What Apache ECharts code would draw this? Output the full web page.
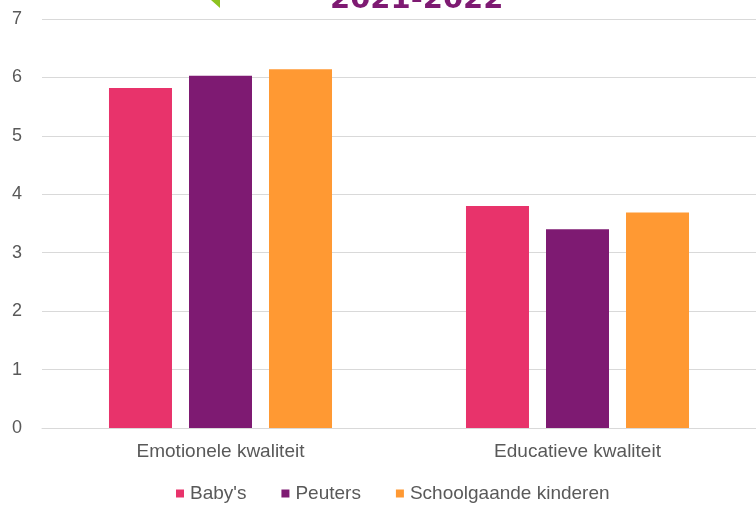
<!DOCTYPE html>
<html><head><meta charset="utf-8">
<script src="https://cdn.jsdelivr.net/npm/echarts@6/dist/echarts.min.js"></script>
<style>html,body{margin:0;padding:0;background:#fff}#c{width:756px;height:505px}</style>
</head><body><div id="c"></div>
<script>
const categories = ['Emotionele kwaliteit', 'Educatieve kwaliteit'];
const seriesNames = ["Baby's", 'Peuters', 'Schoolgaande kinderen'];
const babys = [5.82, 3.80];
const peuters = [6.03, 3.40];
const schoolgaande = [6.14, 3.69];
const colors = ['#E8336B', '#7E1A72', '#FF9933'];
const titleText = '2021-2022';

const chart = echarts.init(document.getElementById('c'));
const mk = (name, data, i) => ({
  name, type: 'bar', data, barWidth: 63, barGap: '27%',
  itemStyle: { color: colors[i] }
});
chart.setOption({
  animation: false,
  grid: { left: 42, right: 0, top: 19, bottom: 77 },
  legend: {
    bottom: 2, left: 176, padding: 0, itemWidth: 8, itemHeight: 8, itemGap: 35,
    icon: 'rect',
    textStyle: { color: '#595959', fontSize: 19, padding: [0, 0, 0, 1], fontFamily: 'Liberation Sans' },
    data: seriesNames
  },
  xAxis: {
    type: 'category', data: categories,
    axisLine: { lineStyle: { color: '#D9D9D9' } },
    axisTick: { show: false },
    axisLabel: { color: '#595959', fontSize: 19, margin: 14, fontFamily: 'Liberation Sans' }
  },
  yAxis: {
    type: 'value', min: 0, max: 7, interval: 1,
    axisLine: { show: false }, axisTick: { show: false },
    axisLabel: { color: '#595959', fontSize: 18, margin: 20, fontFamily: 'Liberation Sans' },
    splitLine: { lineStyle: { color: '#D9D9D9', width: 1 } }
  },
  series: [mk(seriesNames[0], babys, 0), mk(seriesNames[1], peuters, 1), mk(seriesNames[2], schoolgaande, 2)],
  graphic: [
    { type: 'text', left: 330, top: -14, style: { text: titleText, fill: '#7E1A72', font: 'bold 29px "DejaVu Sans"' } },
    { type: 'polygon', shape: { points: [[211, 0], [220, 0], [220, 8]] }, style: { fill: '#8DC21F' } }
  ]
});
</script></body></html>
